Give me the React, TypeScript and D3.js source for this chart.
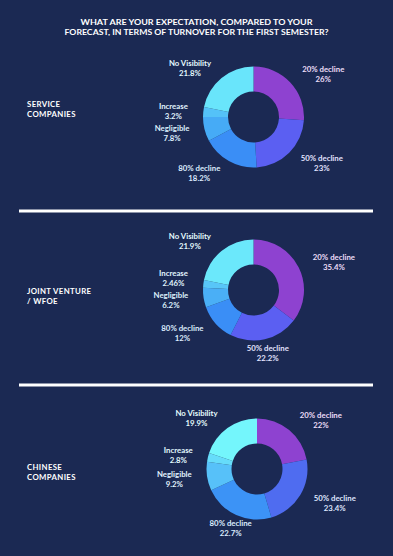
import React, { useEffect, useRef } from 'react';
import * as d3 from 'd3';

const categories = ['20% decline', '50% decline', '80% decline', 'Negligible', 'Increase', 'No Visibility'];
const serviceValues = [26, 23, 18.2, 7.8, 3.2, 21.8];
const jvValues = [35.4, 22.2, 12, 6.2, 2.46, 21.9];
const chineseValues = [22, 23.4, 22.7, 9.2, 2.8, 19.9];
const groupNames = [['SERVICE', 'COMPANIES'], ['JOINT VENTURE', '/ WFOE'], ['CHINESE', 'COMPANIES']];
const titleLines = [
  'WHAT ARE YOUR EXPECTATION, COMPARED TO YOUR',
  'FORECAST, IN TERMS OF TURNOVER FOR THE FIRST SEMESTER?',
];

const W = 393;
const H = 556;
const BG = '#1b2953';
const palettes = [
  ['#8e42d0', '#5b5ff2', '#3a8ef6', '#46abf6', '#54c2f8', '#69e5fb'],
  ['#8e42d0', '#5b5ff2', '#3a8ef6', '#4aaff6', '#58c6f8', '#6be8fb'],
  ['#8e42d0', '#4f6cf0', '#3c93f6', '#57c1f9', '#66dcfa', '#74f6fc'],
];

const App = () => {
  const ref = useRef<SVGSVGElement>(null);

  useEffect(() => {
    if (!ref.current) return;
    const svg = d3.select(ref.current);
    svg.selectAll('*').remove();

    svg.append('rect').attr('width', W).attr('height', H).attr('fill', BG);

    // Title (widths matched to the original heading)
    const titleWidths = [232, 264];
    svg
      .append('g')
      .selectAll('text')
      .data(titleLines)
      .enter()
      .append('text')
      .attr('x', W / 2)
      .attr('y', (d, i) => 25 + i * 9.7)
      .attr('text-anchor', 'middle')
      .attr('textLength', (d, i) => titleWidths[i])
      .attr('lengthAdjust', 'spacingAndGlyphs')
      .attr('fill', '#ffffff')
      .style('font-family', 'Lato, sans-serif')
      .style('font-weight', 700)
      .style('font-size', '8.3px')
      .text(d => d);

    // Separators
    [211, 385].forEach(y => {
      svg.append('line')
        .attr('x1', 19).attr('x2', 373)
        .attr('y1', y).attr('y2', y)
        .attr('stroke', '#ffffff')
        .attr('stroke-width', 3);
    });

    const panels = [
      { values: serviceValues, cx: 253.5, cy: 117, nameY: 107 },
      { values: jvValues, cx: 253.5, cy: 290, nameY: 293.5 },
      { values: chineseValues, cx: 257, cy: 469, nameY: 469.5 },
    ];

    const outerR = 50.5;
    const innerR = 25.5;
    const labelR = 64;
    const arc = d3.arc<d3.PieArcDatum<number>>().innerRadius(innerR).outerRadius(outerR);
    const pie = d3.pie<number>().sort(null).value(d => d);

    panels.forEach((p, pi) => {
      const g = svg.append('g').attr('transform', `translate(${p.cx},${p.cy})`);
      const arcs = pie(p.values);

      g.selectAll('path')
        .data(arcs)
        .enter()
        .append('path')
        .attr('d', arc)
        .attr('fill', (d, i) => palettes[pi][i]);

      // label anchors just outside the ring
      const labels = arcs.map((a, i) => {
        const mid = (a.startAngle + a.endAngle) / 2;
        const s = Math.sin(mid);
        return {
          i,
          s,
          x: s * labelR,
          y: -Math.cos(mid) * labelR,
        };
      });

      // simple overlap relaxation on each side (push upper label up)
      [-1, 1].forEach(side => {
        const sideLabels = labels.filter(l => Math.sign(l.s) === side).sort((a, b) => b.y - a.y);
        for (let k = 1; k < sideLabels.length; k++) {
          const below = sideLabels[k - 1];
          const cur = sideLabels[k];
          if (below.y - cur.y < 22) cur.y = below.y - 22;
        }
      });

      labels.forEach(l => {
        const col = d3.interpolateRgb(palettes[pi][l.i], '#ffffff')(0.82);
        const t = g.append('text')
          .attr('fill', col)
          .style('font-family', 'Lato, sans-serif')
          .style('font-weight', 700)
          .style('font-size', '7.8px')
          .attr('text-anchor', 'middle');
        const l1 = t.append('tspan').attr('dy', -1.6).text(categories[l.i]);
        const l2 = t.append('tspan').attr('dy', 10.2).text(`${p.values[l.i]}%`);
        const w = Math.max(
          (l1.node() as SVGTSpanElement).getComputedTextLength(),
          (l2.node() as SVGTSpanElement).getComputedTextLength()
        );
        let cx = l.x;
        if (Math.abs(l.s) > 0.45) cx = l.x + Math.sign(l.s) * (2 + w / 2);
        l1.attr('x', cx);
        l2.attr('x', cx);
        t.attr('y', l.y);
      });

      // group name on the left
      svg
        .append('g')
        .selectAll('text')
        .data(groupNames[pi])
        .enter()
        .append('text')
        .attr('x', 27)
        .attr('y', (d, i) => p.nameY + i * 10)
        .attr('fill', '#ffffff')
        .style('font-family', 'Lato, sans-serif')
        .style('font-weight', 700)
        .style('font-size', '7.8px')
        .style('letter-spacing', '0.35px')
        .text(d => d);
    });
  }, []);

  return (
    <svg
      ref={ref}
      width={W}
      height={H}
      style={{ position: 'absolute', left: 0, top: 0, display: 'block' }}
    />
  );
};

export default App;
